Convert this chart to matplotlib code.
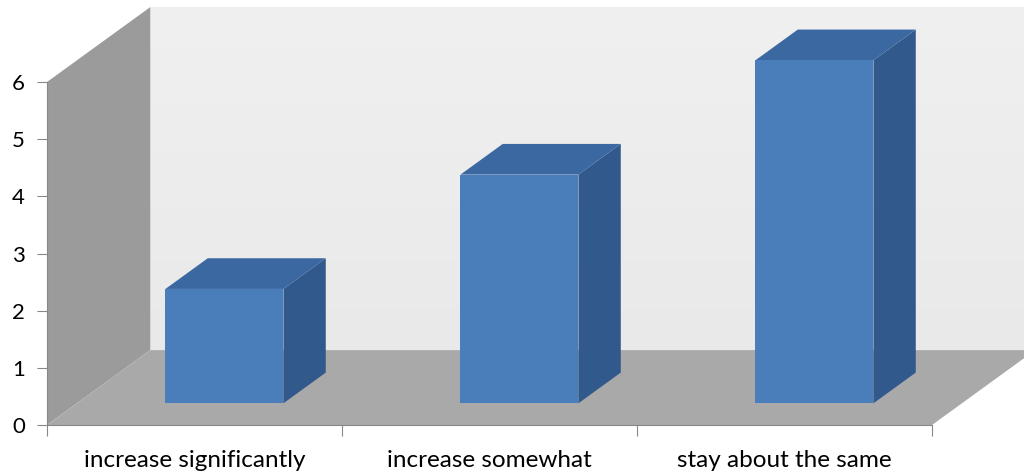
import matplotlib.pyplot as plt
import numpy as np
from matplotlib.patches import Polygon

# chart values
categories = ["increase significantly", "increase somewhat", "stay about the same"]
values = [2, 4, 6]
y_ticks = [0, 1, 2, 3, 4, 5, 6]

# 3d look (oblique projection, in data units)
DX, DY = 0.35, 1.31      # full depth of the plot box
D0, D1 = 0.29, 0.70      # bar depth range as fraction of box depth
BAR_W = 0.4
YMAX = 6

plt.rcParams["font.family"] = ["Lato", "DejaVu Sans"]

fig = plt.figure(figsize=(10.24, 4.73), dpi=100)
ax = fig.add_axes([47 / 1024, 48 / 473, 885 / 1024, 343 / 473])
ax.set_xlim(0, len(categories))
ax.set_ylim(0, YMAX)
ax.patch.set_visible(False)


def poly(pts, color, z):
    ax.add_patch(Polygon(pts, closed=True, facecolor=color, edgecolor="none",
                         zorder=z, clip_on=False))


n = len(categories)

# back wall with a light vertical gradient
grad = np.linspace(0.94, 0.915, 50).reshape(-1, 1)
ax.imshow(np.dstack([grad, grad, grad]), extent=[DX, n + DX, DY, YMAX + DY],
          origin="upper", aspect="auto", zorder=0, clip_on=False)
# left wall and floor
poly([(0, 0), (DX, DY), (DX, YMAX + DY), (0, YMAX)], "#9b9b9b", 1)
poly([(0, 0), (n, 0), (n + DX, DY), (DX, DY)], "#a9a9a9", 1)

# bars
for i, v in enumerate(values):
    x0 = i + 0.5 - BAR_W / 2 + D0 * DX
    x1 = x0 + BAR_W
    y0 = D0 * DY
    ddx = (D1 - D0) * DX
    ddy = (D1 - D0) * DY
    # right side
    poly([(x1, y0), (x1 + ddx, y0 + ddy), (x1 + ddx, y0 + ddy + v), (x1, y0 + v)], "#31598c", 3)
    # top
    poly([(x0, y0 + v), (x1, y0 + v), (x1 + ddx, y0 + ddy + v), (x0 + ddx, y0 + ddy + v)], "#3c68a2", 3)
    # front
    poly([(x0, y0), (x1, y0), (x1, y0 + v), (x0, y0 + v)], "#4a7ebb", 4)

ax.set_xlim(0, n)
ax.set_ylim(0, YMAX)

for s in ["top", "right"]:
    ax.spines[s].set_visible(False)
for s in ["left", "bottom"]:
    ax.spines[s].set_color("#878787")
    ax.spines[s].set_zorder(5)

ax.set_yticks(y_ticks)
ax.tick_params(axis="y", length=7, color="#878787", pad=9, labelsize=16, labelcolor="black")

ax.set_xticks(np.arange(n + 1))
ax.set_xticklabels([])
ax.set_xticks(np.arange(n) + 0.5, minor=True)
ax.set_xticklabels(categories, minor=True)
ax.tick_params(axis="x", which="major", length=8, color="#878787")
ax.tick_params(axis="x", which="minor", length=0, pad=18, labelsize=17.5, labelcolor="black")

fig.savefig("out.png", dpi=100)
